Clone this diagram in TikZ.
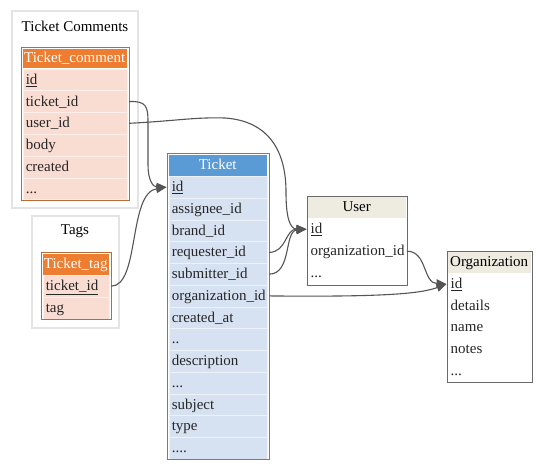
\documentclass[tikz,border=0pt]{standalone}
\usepackage{fontspec}
\setmainfont{Liberation Serif}
\usetikzlibrary{arrows.meta}
\definecolor{tchead}{HTML}{ED7D31}
\definecolor{tcrow}{HTML}{F9DCD2}
\definecolor{tcbord}{HTML}{B86D38}
\definecolor{tkhead}{HTML}{5B9BD5}
\definecolor{tkrow}{HTML}{D6E1F2}
\definecolor{tkbord}{HTML}{5583B5}
\definecolor{ushead}{HTML}{EEEBE0}
\definecolor{gbord}{HTML}{6A6A6A}
\definecolor{clbord}{HTML}{E4E4E4}
\definecolor{edgec}{HTML}{555555}
\definecolor{txt}{HTML}{262626}
\begin{document}
\begin{tikzpicture}[x=1pt,y=-1pt,
  font=\fontsize{15}{17}\selectfont,
  cell/.style={anchor=north west, inner xsep=3pt, inner ysep=0pt,
    text height=12pt, text depth=3pt, align=left, text=txt},
  hdr/.style={anchor=north west, inner sep=0pt, text height=12pt, text depth=3pt, align=center},
  tcc/.style={cell, fill=tcrow, draw=white!55!tcrow, line width=0.6pt, text width=98pt, minimum height=21.8pt},
  tch/.style={hdr, fill=tchead, text=white, minimum width=104pt, minimum height=19.5pt},
  tgc/.style={cell, fill=tcrow, draw=white!55!tcrow, line width=0.6pt, text width=60pt, minimum height=21.8pt},
  tgh/.style={hdr, fill=tchead, text=white, minimum width=66pt, minimum height=21pt},
  tkc/.style={cell, fill=tkrow, draw=white!55!tkrow, line width=0.6pt, text width=92pt, minimum height=21.75pt},
  tkh/.style={hdr, fill=tkhead, text=white, minimum width=98pt, minimum height=21pt},
  usc/.style={cell, fill=white, text width=92pt, minimum height=22pt},
  ush/.style={hdr, fill=ushead, text=black, minimum width=98pt, minimum height=21pt},
  orc/.style={cell, fill=white, text width=77pt, minimum height=21.7pt},
  orh/.style={hdr, fill=ushead, text=black, minimum width=83pt, minimum height=21pt},
  cluster/.style={draw=clbord, line width=1.6pt, inner sep=0pt},
  tborder/.style={line width=0.9pt},
  edge/.style={draw=edgec, line width=1.1pt, -{Triangle[length=10pt,width=8.5pt]}}
]
\useasboundingbox[fill=white] (0,0) rectangle (541,471);

% clusters
\node[cluster, minimum width=126pt, minimum height=197pt] (clTC) at (75,109.5) {};
\node (tctitle) at (75,26) {Ticket Comments};
\node[cluster, minimum width=87pt, minimum height=112pt] (clTG) at (75.5,272) {};
\node (tgtitle) at (75,231) {Tags};

% Ticket_comment
\node[tch] (tch) at (22.5,48.5) {Ticket\_comment};
\node[tcc] (tc-id) at (22.5,68.5) {\underline{id}};
\node[tcc] (tc-tid) at (22.5,90.3) {ticket\_id};
\node[tcc] (tc-uid) at (22.5,112.1) {user\_id};
\node[tcc] (tc-body) at (22.5,133.9) {body};
\node[tcc] (tc-cr) at (22.5,155.7) {created};
\node[tcc] (tc-etc) at (22.5,177.5) {...};
\draw[tcbord, tborder] (21,47) rectangle (129,200.5);

% Ticket_tag
\node[tgh] (tgh) at (42.5,253.5) {Ticket\_tag};
\node[tgc] (tg-tid) at (42.5,275) {\underline{ticket\_id}};
\node[tgc] (tg-tag) at (42.5,296.8) {tag};
\draw[tcbord, tborder] (41,252) rectangle (111,319.5);

% Ticket
\node[tkh] (tkh) at (168.5,154.5) {Ticket};
\node[tkc] (tk-id) at (168.5,176) {\underline{id}};
\node[tkc] (tk-as) at (168.5,197.75) {assignee\_id};
\node[tkc] (tk-br) at (168.5,219.5) {brand\_id};
\node[tkc] (tk-rq) at (168.5,241.25) {requester\_id};
\node[tkc] (tk-sb) at (168.5,263) {submitter\_id};
\node[tkc] (tk-org) at (168.5,284.75) {organization\_id};
\node[tkc] (tk-cr) at (168.5,306.5) {created\_at};
\node[tkc] (tk-d2) at (168.5,328.25) {..};
\node[tkc] (tk-ds) at (168.5,350) {description};
\node[tkc] (tk-d3) at (168.5,371.75) {...};
\node[tkc] (tk-sj) at (168.5,393.5) {subject};
\node[tkc] (tk-ty) at (168.5,415.25) {type};
\node[tkc] (tk-d4) at (168.5,437) {....};
\draw[tkbord, tborder] (167,153) rectangle (269,459);

% User
\node[ush] (ush) at (307.5,196.5) {User};
\node[usc] (us-id) at (307.5,218) {\underline{id}};
\node[usc] (us-org) at (307.5,240) {organization\_id};
\node[usc] (us-etc) at (307.5,262) {...};
\draw[gbord, tborder] (307,196) rectangle (407,285);

% Organization
\node[orh] (orh) at (447.5,251.5) {Organization};
\node[orc] (or-id) at (447.5,273) {\underline{id}};
\node[orc] (or-det) at (447.5,294.7) {details};
\node[orc] (or-nm) at (447.5,316.4) {name};
\node[orc] (or-nt) at (447.5,338.1) {notes};
\node[orc] (or-etc) at (447.5,359.8) {...};
\draw[gbord, tborder] (447,251) rectangle (532,382);

% edges
\draw[edge] ([xshift=2pt]tc-tid.east) .. controls (146,101) and (148,106) .. (148,122)
  -- (148,165) .. controls (148,180) and (153,187) .. ([xshift=-2pt]tk-id.west);
\draw[edge] ([xshift=2pt]tc-uid.east) .. controls (175,121) and (195,117) .. (225,118)
  .. controls (268,121) and (286,150) .. (286,192)
  .. controls (286,218) and (290,229) .. ([xshift=-1pt]us-id.west);
\draw[edge] ([xshift=2pt]tg-tid.east) .. controls (140,286) and (128,193) .. ([xshift=-2pt]tk-id.west);
\draw[edge] ([xshift=2pt]tk-rq.east) .. controls (287,252) and (285,229) .. ([xshift=-1pt]us-id.west);
\draw[edge] ([xshift=2pt]tk-sb.east) .. controls (292,274) and (284,231) .. ([xshift=-1pt]us-id.west);
\draw[edge] ([xshift=2pt]tk-org.east) .. controls (380,297) and (420,294) .. ([xshift=-1pt]or-id.west);
\draw[edge] ([xshift=1pt]us-org.east) .. controls (427,251) and (423,283) .. ([xshift=-1pt]or-id.west);
\end{tikzpicture}
\end{document}
